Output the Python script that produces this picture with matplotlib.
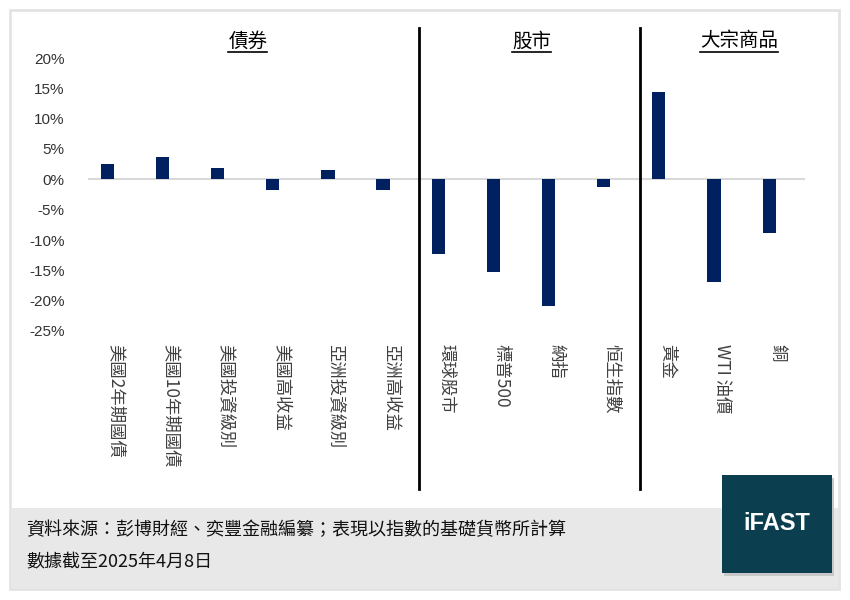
import matplotlib
matplotlib.use('Agg')
import matplotlib.pyplot as plt
from matplotlib.patches import Rectangle
from matplotlib.lines import Line2D
import numpy as np

plt.rcParams['font.family'] = ['Noto Sans CJK TC', 'DejaVu Sans']

# --- данные ---
categories = ['美國2年期國債', '美國10年期國債', '美國投資級別', '美國高收益', '亞洲投資級別', '亞洲高收益',
              '環球股市', '標普500', '納指', '恒生指數',
              '黃金', 'WTI 油價', '銅']
returns = [2.5, 3.6, 1.8, -1.8, 1.5, -1.7,
           -12.3, -15.3, -20.9, -1.3,
           14.4, -17.0, -8.8]
groups = ['債券', '股市', '大宗商品']
group_pos = [2.4, 7.55, 11.3]
separators = [5.5, 9.5]
yticks = [20, 15, 10, 5, 0, -5, -10, -15, -20, -25]
source_text = '資料來源：彭博財經、奕豐金融編纂；表現以指數的基礎貨幣所計算'
date_text = '數據截至2025年4月8日'

W, H = 850, 600
fig = plt.figure(figsize=(8.5, 6), dpi=100)

# рамка и подвал
fig.patches.append(Rectangle((10 / W, 1 - 589 / H), 829 / W, 579 / H, transform=fig.transFigure,
                             facecolor='white', edgecolor='#E3E3E3', lw=2, zorder=0))
fig.patches.append(Rectangle((11 / W, 1 - 588 / H), 827 / W, 80 / H, transform=fig.transFigure,
                             facecolor='#E8E8E8', edgecolor='none', zorder=1))
# логотип
fig.patches.append(Rectangle((724 / W, 1 - 576 / H), 110 / W, 98 / H, transform=fig.transFigure,
                             facecolor='#C8C8C8', edgecolor='none', zorder=2))
fig.patches.append(Rectangle((722 / W, 1 - 573 / H), 110 / W, 98 / H, transform=fig.transFigure,
                             facecolor='#0B3F50', edgecolor='none', zorder=3))
fig.text(777 / W, 1 - 524 / H, 'iFAST', color='white', fontsize=17, fontweight='bold',
         family=['Liberation Sans', 'DejaVu Sans'], ha='center', va='center', zorder=4)

fig.text(26 / W, 1 - 530 / H, source_text, fontsize=13, color='#111111', va='center', ha='left', zorder=4)
fig.text(26 / W, 1 - 562 / H, date_text, fontsize=13, color='#111111', va='center', ha='left', zorder=4)

# --- основной график ---
ax = fig.add_axes([88 / W, 1 - 331 / H, 717 / W, 273 / H])
ax.set_zorder(5)
ax.patch.set_alpha(0)
x = np.arange(len(categories))
ax.bar(x - 0.15, returns, width=0.24, color='#002060', zorder=3)
ax.axhline(0, color='#D9D9D9', lw=1.5, zorder=2)
ax.set_xlim(-0.5, len(categories) - 0.5)
ax.set_ylim(-25, 20)
ax.set_yticks(yticks)
ax.set_yticklabels([f'{v}%' for v in yticks], family=['Liberation Sans', 'DejaVu Sans'],
                   fontsize=11, color='#333333')
ax.set_xticks(x)
ax.set_xticklabels(categories, rotation=-90, fontsize=12.5, color='#404040', va='top', ha='center')
ax.tick_params(axis='both', length=0)
ax.tick_params(axis='x', pad=9)
ax.tick_params(axis='y', pad=17)
for s in ax.spines.values():
    s.set_visible(False)

# разделители групп
for sx in separators:
    ax.axvline(sx, ymin=(331 - 489) / 273, ymax=(331 - 28) / 273, color='black', lw=2, clip_on=False)

# заголовки групп с подчёркиванием
heads = []
for g, gx in zip(groups, group_pos):
    t = ax.text(gx, 0, g, fontsize=14, color='black', ha='center', va='center',
                transform=ax.get_xaxis_transform(), clip_on=False)
    t.set_y((331 - 41) / 273)
    heads.append(t)

fig.canvas.draw()
r = fig.canvas.get_renderer()
for t in heads:
    bb = t.get_window_extent(r)
    yl = 1 - 52 / H
    fig.lines.append(Line2D([bb.x0 / W, bb.x1 / W], [yl, yl], transform=fig.transFigure,
                            color='black', lw=1.2))

fig.savefig('out.png', dpi=100)
